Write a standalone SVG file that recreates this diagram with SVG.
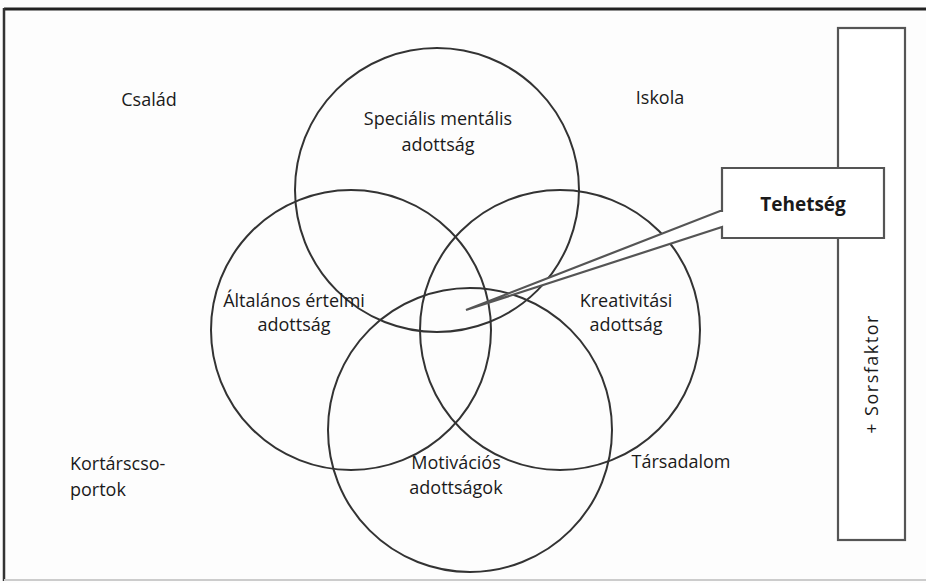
<svg xmlns="http://www.w3.org/2000/svg" width="926" height="583" viewBox="0 0 926 583">
<style>
.c{fill:none;stroke:#333;stroke-width:2}
.t{font-family:"Open Sans","Liberation Sans",sans-serif;font-size:18px;fill:#1a1a1a;text-anchor:middle}
.b{fill:#fff;stroke:#555;stroke-width:2.2}
</style>
<rect width="926" height="583" fill="#fdfdfd"/>
<g id="frame">
<line x1="4" y1="9" x2="926" y2="9" stroke="#222" stroke-width="3"/>
<line x1="4" y1="8" x2="4" y2="581" stroke="#333" stroke-width="2.5"/>
<line x1="4" y1="580" x2="926" y2="580" stroke="#ccc" stroke-width="2"/>
</g>
<g id="sorsfaktor">
<rect class="b" x="838" y="28" width="67" height="512"/>
<text class="t" transform="translate(878,374) rotate(-90)" letter-spacing="1.5">+ Sorsfaktor</text>
</g>
<g id="circles">
<circle id="specialis" class="c" cx="437" cy="190" r="142"/>
<circle id="altalanos" class="c" cx="351" cy="330" r="140"/>
<circle id="kreativitasi" class="c" cx="560" cy="330" r="140"/>
<circle id="motivacios" class="c" cx="470" cy="430" r="142"/>
</g>
<g id="labels">
<text class="t" x="438" y="125">Speciális mentális</text>
<text class="t" x="438" y="151">adottság</text>
<text class="t" x="294" y="307">Általános értelmi</text>
<text class="t" x="294" y="331">adottság</text>
<text class="t" x="626" y="307">Kreativitási</text>
<text class="t" x="626" y="331">adottság</text>
<text class="t" x="456" y="469">Motivációs</text>
<text class="t" x="456" y="494">adottságok</text>
<text class="t" x="149" y="106">Család</text>
<text class="t" x="660" y="104">Iskola</text>
<text class="t" x="681" y="468">Társadalom</text>
<text class="t" x="70" y="470" style="text-anchor:start">Kortárscso-</text>
<text class="t" x="70" y="496" style="text-anchor:start">portok</text>
</g>
<g id="tehetseg">
<path class="b" d="M722,168 H884 V238 H722 V227 L466,310 L720,211 H722 Z"/>
<text class="t" x="803" y="211" style="font-weight:bold;font-size:19px">Tehetség</text>
</g>
</svg>
